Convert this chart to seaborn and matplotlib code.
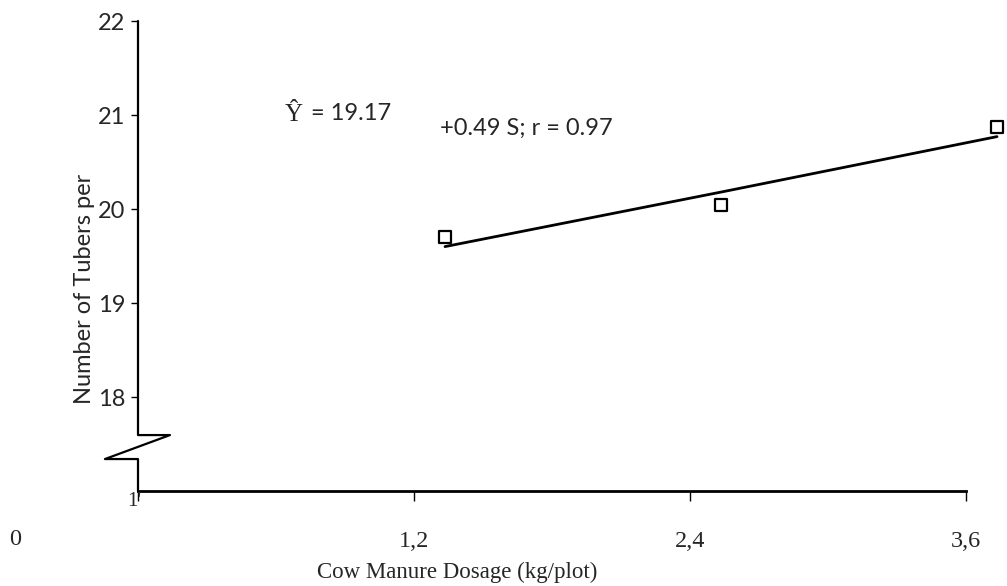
import matplotlib
matplotlib.use('Agg')
import matplotlib.pyplot as plt
import matplotlib.transforms as mtransforms
import seaborn as sns

# data
dosage = [1.2, 2.4, 3.6]
tubers = [19.70, 20.04, 20.87]
fitted = [19.60, 20.18, 20.77]
y_ticks = [18, 19, 20, 21, 22]
x_ticks = [0, 1.2, 2.4, 3.6]
x_ticklabels = ['', '1,2', '2,4', '3,6']

sns.set_style('white')
plt.rcParams['font.family'] = ['Lato', 'DejaVu Sans']

fig = plt.figure(figsize=(10.07, 5.86), dpi=100)
ax = fig.add_axes([138 / 1007, 95 / 586, 828 / 1007, 470 / 586])

# points in the source figure sit a little right of the ticks
shift = mtransforms.offset_copy(ax.transData, fig=fig, x=31, y=0, units='dots')

sns.lineplot(x=dosage, y=fitted, ax=ax, color='black', lw=2, transform=shift, clip_on=False)
sns.scatterplot(x=dosage, y=tubers, ax=ax, marker='s', s=75, facecolor='white',
                edgecolor='black', linewidth=1.6, transform=shift, clip_on=False, zorder=3)

ax.set_xlim(0, 3.6)
ax.set_ylim(17, 22)
ax.set_yticks(y_ticks)
ax.set_yticklabels([str(v) for v in y_ticks], fontsize=17)
ax.set_xticks(x_ticks)
ax.set_xticklabels(x_ticklabels, fontsize=17.5, family='Liberation Serif')
ax.tick_params(axis='y', direction='out', length=5, width=1, color='black', left=True, pad=4)
ax.tick_params(axis='x', direction='out', length=7, width=1, color='black', bottom=True, pad=22)

for s in ['top', 'right', 'left']:
    ax.spines[s].set_visible(False)
ax.spines['bottom'].set_color('black')
ax.spines['bottom'].set_linewidth(2)

# broken y axis
ax.plot([0, 0, 0.0386, -0.0399, 0, 0], [1, 0.119, 0.119, 0.068, 0.068, 0],
        transform=ax.transAxes, color='black', lw=1.6, clip_on=False)

ax.set_ylabel('Number of Tubers per', fontsize=17)
ax.yaxis.set_label_coords(-0.052, 0.43)
ax.set_xlabel('Cow Manure Dosage (kg/plot)', fontsize=16.5, family='Liberation Serif')
ax.xaxis.set_label_coords(0.385, -0.15)

ax.text(-0.1486, -0.104, '0', transform=ax.transAxes, ha='center', va='center',
        fontsize=17.5, family='Liberation Serif')
ax.text(-0.004, -0.022, "1'", transform=ax.transAxes, ha='center', va='center',
        fontsize=15, family='Liberation Serif')

ax.text(0.1775, 0.80, '\u0176', transform=ax.transAxes, ha='left', va='center',
        fontsize=18, family='Liberation Serif')
ax.text(0.2017, 0.804, ' = 19.17', transform=ax.transAxes, ha='left', va='center', fontsize=17)
ax.text(0.3647, 0.772, '+0.49 S; r = 0.97', transform=ax.transAxes, ha='left', va='center',
        fontsize=17)

fig.savefig('out.png', dpi=100)
